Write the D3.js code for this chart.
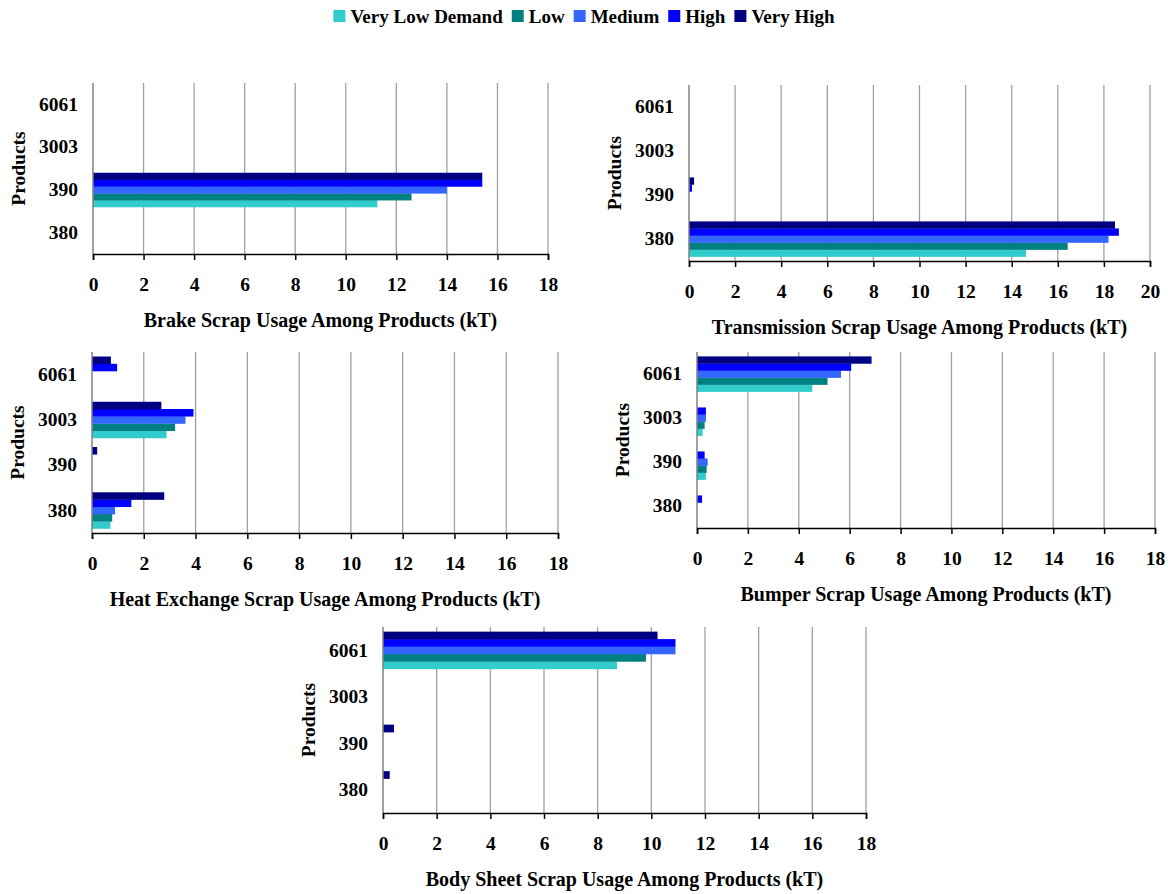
<!DOCTYPE html>
<html><head><meta charset="utf-8">
<script src="https://cdn.jsdelivr.net/npm/d3@7"></script>
<style>
html,body{margin:0;padding:0;background:#fff;}
svg{display:block;}
text{font-family:"Liberation Serif","Times New Roman",serif;font-weight:bold;fill:#000;}
</style></head>
<body>
<svg id="chart" width="1168" height="894"></svg>
<script>
// ---- data ----
const categories = ["6061", "3003", "390", "380"]; // top to bottom
const seriesNames = ["Very Low Demand", "Low", "Medium", "High", "Very High"];
const seriesColors = ["#33CCCC", "#008080", "#3366FF", "#0000FF", "#000080"];
const xTicks18 = [0, 2, 4, 6, 8, 10, 12, 14, 16, 18];
const xTicks20 = [0, 2, 4, 6, 8, 10, 12, 14, 16, 18, 20];

// values per series (rows), per category in order 6061, 3003, 390, 380
const brakeValues = [
  [0, 0, 11.25, 0],
  [0, 0, 12.6, 0],
  [0, 0, 14.0, 0],
  [0, 0, 15.4, 0],
  [0, 0, 15.4, 0]
];
const transmissionValues = [
  [0, 0, 0, 14.62],
  [0, 0, 0, 16.43],
  [0, 0, 0, 18.2],
  [0, 0, 0.13, 18.65],
  [0, 0, 0.22, 18.48]
];
const heatExchangeValues = [
  [0, 2.88, 0, 0.71],
  [0, 3.21, 0, 0.78],
  [0, 3.61, 0, 0.89],
  [0.97, 3.92, 0, 1.52],
  [0.73, 2.68, 0.2, 2.79]
];
const bumperValues = [
  [4.53, 0.22, 0.35, 0],
  [5.13, 0.3, 0.38, 0],
  [5.66, 0.35, 0.42, 0],
  [6.06, 0.35, 0.3, 0.2],
  [6.86, 0, 0, 0]
];
const bodySheetValues = [
  [8.72, 0, 0, 0],
  [9.8, 0, 0, 0],
  [10.9, 0, 0, 0],
  [10.9, 0, 0, 0],
  [10.23, 0, 0.41, 0.25]
];
const chartTitles = [
  "Brake Scrap Usage Among Products (kT)",
  "Transmission Scrap Usage Among Products (kT)",
  "Heat Exchange Scrap Usage Among Products (kT)",
  "Bumper Scrap Usage Among Products (kT)",
  "Body Sheet Scrap Usage Among Products (kT)"
];
const yAxisLabel = "Products";

// ---- layout ----
const panels = [
  {values: brakeValues, title: chartTitles[0], ticks: xTicks18, left: 93, right: 548, top: 83, bottom: 254},
  {values: transmissionValues, title: chartTitles[1], ticks: xTicks20, left: 689, right: 1150, top: 85, bottom: 261},
  {values: heatExchangeValues, title: chartTitles[2], ticks: xTicks18, left: 92, right: 558, top: 352, bottom: 533},
  {values: bumperValues, title: chartTitles[3], ticks: xTicks18, left: 697, right: 1155, top: 352, bottom: 528},
  {values: bodySheetValues, title: chartTitles[4], ticks: xTicks18, left: 383, right: 866, top: 627, bottom: 813}
];

const svg = d3.select("#chart");
const FS = 19.5;
const TFS = 20;

panels.forEach(p => {
  const g = svg.append("g");
  const xMax = p.ticks[p.ticks.length - 1];
  const x = d3.scaleLinear().domain([0, xMax]).range([p.left, p.right]);
  const y = d3.scaleBand().domain(categories).range([p.top, p.bottom]).paddingInner(0.2).paddingOuter(0.1);
  const innerOrder = seriesNames.slice().reverse(); // Very High on top
  const yi = d3.scaleBand().domain(innerOrder).range([0, y.bandwidth()]);

  // grid
  g.append("g").selectAll("line").data(p.ticks.filter(t => t > 0)).join("line")
    .attr("x1", d => x(d)).attr("x2", d => x(d))
    .attr("y1", p.top).attr("y2", p.bottom)
    .attr("stroke", "#a0a0a0").attr("stroke-width", 1.3);

  // bars
  seriesNames.forEach((s, si) => {
    g.append("g").selectAll("rect")
      .data(categories.map((c, ci) => ({c, v: p.values[si][ci]})).filter(d => d.v > 0))
      .join("rect")
      .attr("x", x(0))
      .attr("y", d => y(d.c) + yi(s))
      .attr("width", d => x(d.v) - x(0))
      .attr("height", yi.bandwidth() + 0.3)
      .attr("fill", seriesColors[si]);
  });

  // y axis
  const ya = g.append("g").attr("transform", `translate(${p.left},0)`)
    .call(d3.axisLeft(y).tickSize(0).tickPadding(15));
  ya.select(".domain").attr("stroke", "#808080").attr("stroke-width", 1.5)
    .attr("d", `M0,${p.top}V${p.bottom}`);
  ya.selectAll("text").attr("font-size", FS).attr("font-family", null).style("font-family", "Liberation Serif").style("font-weight", "bold");

  // x axis
  const xa = g.append("g").attr("transform", `translate(0,${p.bottom})`)
    .call(d3.axisBottom(x).tickValues(p.ticks).tickFormat(d3.format("d")).tickSize(6).tickPadding(17));
  xa.select(".domain").attr("stroke", "#000").attr("stroke-width", 1.5);
  xa.selectAll(".tick line").attr("stroke", "#000").attr("stroke-width", 1.5);
  xa.selectAll("text").attr("font-size", FS).attr("font-family", null).style("font-family", "Liberation Serif").style("font-weight", "bold");

  // titles
  g.append("text").attr("x", (p.left + p.right) / 2).attr("y", p.bottom + 66).attr("dy", "0.35em")
    .attr("text-anchor", "middle").attr("font-size", TFS).text(p.title);
  g.append("text")
    .attr("transform", `translate(${p.left - 75},${(p.top + p.bottom) / 2}) rotate(-90)`)
    .attr("text-anchor", "middle").attr("dy", "0.35em").attr("font-size", FS).text(yAxisLabel);
});

// legend
const leg = svg.append("g");
let cx = 0;
seriesNames.forEach((s, i) => {
  const it = leg.append("g");
  it.append("rect").attr("x", 0).attr("y", 10).attr("width", 12).attr("height", 12).attr("fill", seriesColors[i]);
  const t = it.append("text").attr("x", 17).attr("y", 22.5).attr("font-size", 19).text(s);
  const w = t.node().getComputedTextLength();
  it.attr("transform", `translate(${cx},0)`);
  cx += 17 + w + 9;
});
const totalW = cx - 9;
leg.attr("transform", `translate(${(1168 - totalW) / 2},0)`);
</script>
</body></html>
